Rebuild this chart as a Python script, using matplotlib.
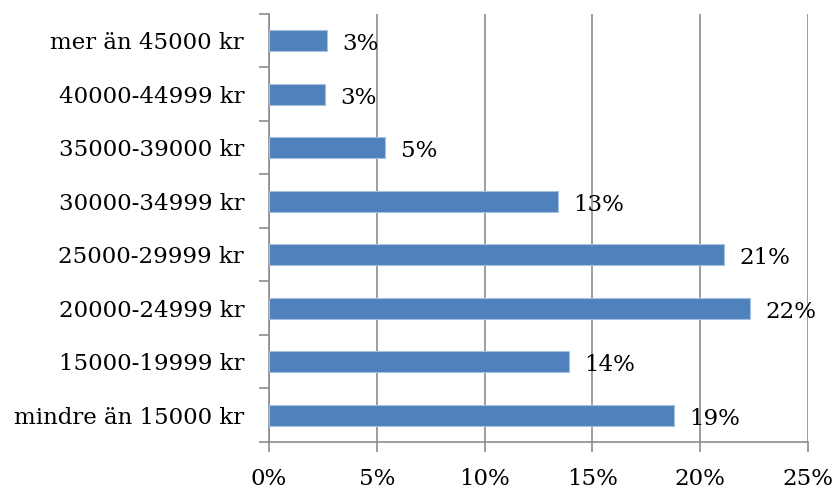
import matplotlib.pyplot as plt
from matplotlib.ticker import FuncFormatter, FixedLocator

# income brackets, bottom to top as drawn
brackets = ["mindre än 15000 kr", "15000-19999 kr", "20000-24999 kr",
            "25000-29999 kr", "30000-34999 kr", "35000-39000 kr",
            "40000-44999 kr", "mer än 45000 kr"]
shares = [18.8, 13.9, 22.3, 21.1, 13.4, 5.4, 2.6, 2.7]
x_ticks = [0, 5, 10, 15, 20, 25]

plt.rcParams['font.family'] = ['DejaVu Serif']
FS = 16.5

fig = plt.figure(figsize=(8.36, 4.91), dpi=100)
ax = fig.add_axes([0.3218, 0.0998, 0.6447, 0.8717])

ypos = list(range(len(brackets)))
ax.barh(ypos, shares, height=0.4, color='#4F81BD', edgecolor='#A7C0DE',
        linewidth=0.8, zorder=3)

for y, v in zip(ypos, shares):
    ax.annotate(f"{v:.0f}%", (v, y), xytext=(11, -2.5), textcoords='offset points',
                ha='left', va='center', fontsize=FS, color='black')

ax.set_xlim(0, 25)
ax.set_ylim(-0.5, len(brackets) - 0.5)
ax.xaxis.set_major_locator(FixedLocator(x_ticks))
ax.xaxis.set_major_formatter(FuncFormatter(lambda v, p: f"{v:.0f}%"))
ax.grid(axis='x', color='#8C8C8C', linewidth=1.2, zorder=0)

ax.set_yticks(ypos)
ax.set_yticklabels(brackets)
ax.set_yticks([y + 0.5 for y in range(-1, len(brackets))], minor=True)
ax.tick_params(axis='y', which='major', length=0, pad=18, labelsize=FS)
ax.tick_params(axis='y', which='minor', length=7, width=1.2, color='#8C8C8C')
ax.tick_params(axis='x', length=7, width=1.2, color='#8C8C8C', pad=12, labelsize=FS)

for side in ['top', 'right']:
    ax.spines[side].set_visible(False)
for side in ['left', 'bottom']:
    ax.spines[side].set_color('#8C8C8C')
    ax.spines[side].set_linewidth(1.2)

fig.savefig("out.png", dpi=100)
